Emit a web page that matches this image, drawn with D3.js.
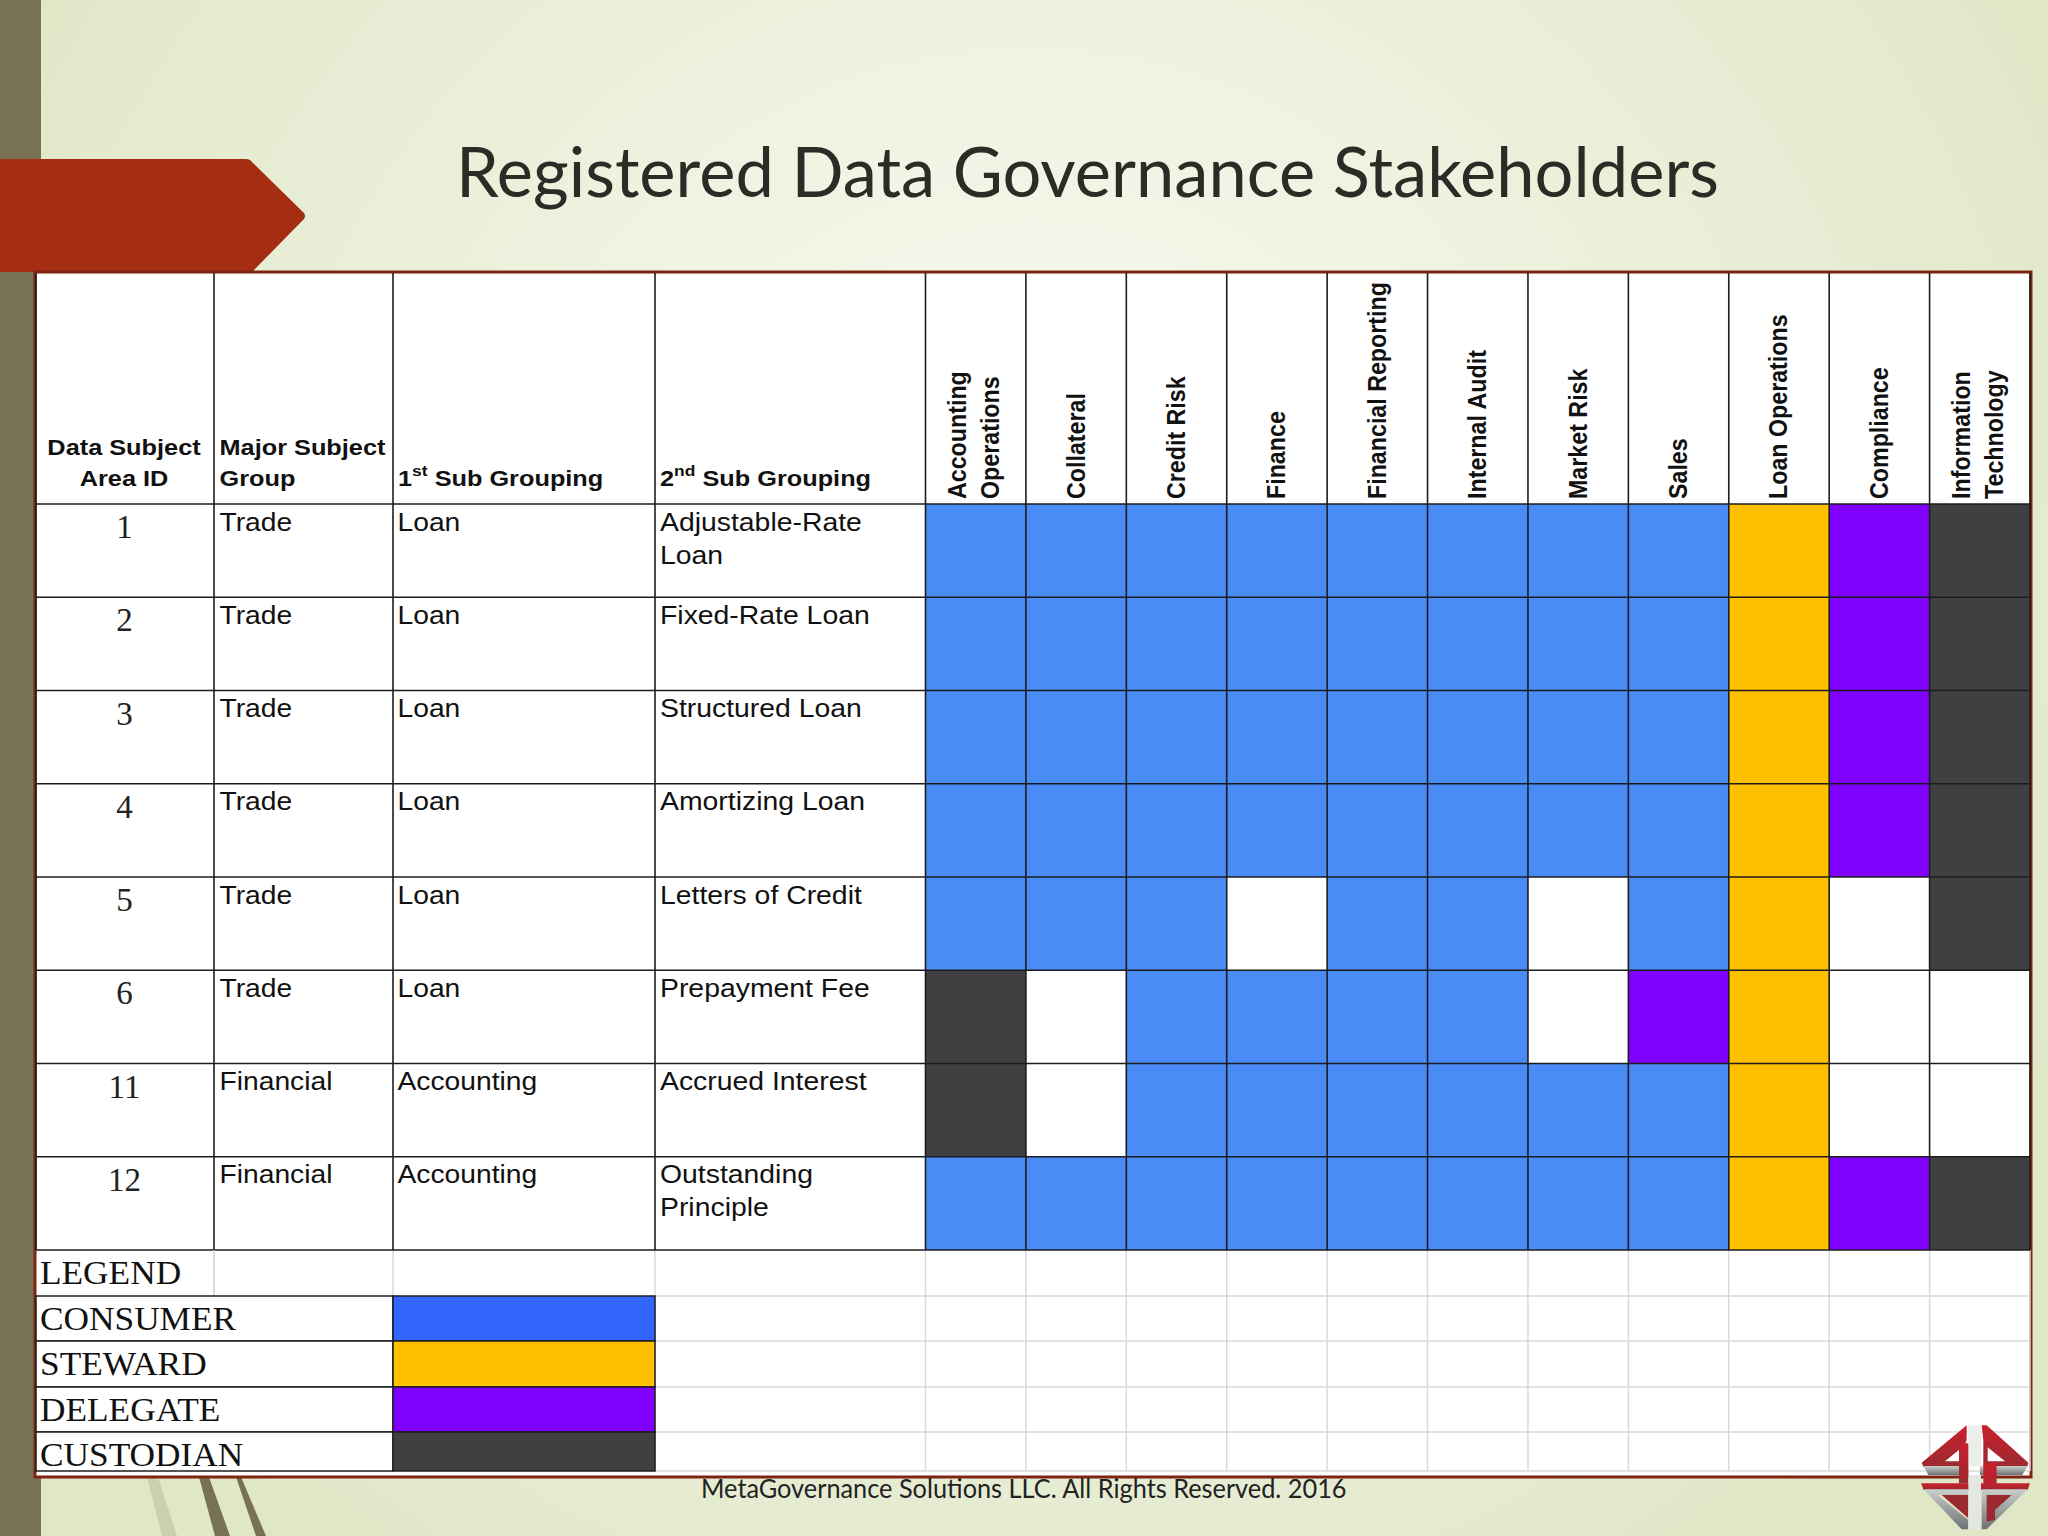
<!DOCTYPE html>
<html>
<head>
<meta charset="utf-8">
<title>Registered Data Governance Stakeholders</title>
<script src="https://cdn.jsdelivr.net/npm/d3@7"></script>
<style>
  html, body { margin: 0; padding: 0; background: #e6ecd4; }
  svg { display: block; }
</style>
</head>
<body>
<script>
const titleText = 'Registered Data Governance Stakeholders'
const footerText = 'MetaGovernance Solutions LLC. All Rights Reserved. 2016'

// one entry per stakeholder column, a second item means a second line
const stakeholders = [
  ['Accounting', 'Operations'], ['Collateral'], ['Credit Risk'], ['Finance'],
  ['Financial Reporting'], ['Internal Audit'], ['Market Risk'], ['Sales'],
  ['Loan Operations'], ['Compliance'], ['Information', 'Technology']
]

const areaIds = ['1', '2', '3', '4', '5', '6', '11', '12']
const majorGroups = ['Trade', 'Trade', 'Trade', 'Trade', 'Trade', 'Trade', 'Financial', 'Financial']
const firstGroups = ['Loan', 'Loan', 'Loan', 'Loan', 'Loan', 'Loan', 'Accounting', 'Accounting']
const secondGroups = [
  ['Adjustable-Rate', 'Loan'], ['Fixed-Rate Loan'], ['Structured Loan'], ['Amortizing Loan'],
  ['Letters of Credit'], ['Prepayment Fee'], ['Accrued Interest'], ['Outstanding', 'Principle']
]

// C consumer, S steward, D delegate, K custodian, - nothing
const roleRows = [
  'CCCCCCCCSDK',
  'CCCCCCCCSDK',
  'CCCCCCCCSDK',
  'CCCCCCCCSDK',
  'CCC-CC-CS-K',
  'K-CCCC-DS--',
  'K-CCCCCCS--',
  'CCCCCCCCSDK'
]

const legendNames = ['CONSUMER', 'STEWARD', 'DELEGATE', 'CUSTODIAN']
const legendCodes = ['C', 'S', 'D', 'K']

const width = 2048
const height = 1536
const sansFont = '"Liberation Sans", Arial, sans-serif'
const serifFont = '"Liberation Serif", serif'
const titleFont = 'Lato, "Open Sans", sans-serif'

// table layout
const tableLeft = 36
const tableRight = 2030
const tableTop = 273
const headerBottom = 504
const rowsBottom = 1250
const leftEdges = [36, 214, 393, 655, 925.5]
const legendEdges = [1250, 1296, 1341, 1387, 1432, 1471]

const svg = d3.select('body').append('svg')
  .attr('width', width)
  .attr('height', height)
  .attr('viewBox', `0 0 ${width} ${height}`)

const defs = svg.append('defs')
const bgGradient = defs.append('radialGradient')
  .attr('id', 'bg')
  .attr('gradientUnits', 'userSpaceOnUse')
  .attr('cx', 1030).attr('cy', 600).attr('r', 1200)
bgGradient.append('stop').attr('offset', 0).attr('stop-color', '#fbfcf6')
bgGradient.append('stop').attr('offset', 1).attr('stop-color', '#dfe7c6')

const logoRed = defs.append('linearGradient')
  .attr('id', 'logoRed').attr('x1', 0).attr('y1', 0).attr('x2', 0).attr('y2', 1)
logoRed.append('stop').attr('offset', 0).attr('stop-color', '#c9202c')
logoRed.append('stop').attr('offset', 1).attr('stop-color', '#9b2a30')

const logoGrey = defs.append('linearGradient')
  .attr('id', 'logoGrey').attr('x1', 0).attr('y1', 0).attr('x2', 0).attr('y2', 1)
logoGrey.append('stop').attr('offset', 0).attr('stop-color', '#c9cfcc')
logoGrey.append('stop').attr('offset', 1).attr('stop-color', '#6d7272')

// slide background
svg.append('rect').attr('width', width).attr('height', height).attr('fill', 'url(#bg)')
svg.append('rect').attr('width', 41).attr('height', height).attr('fill', '#777254')

const wedges = [
  ['#c9d0ae', [[147, 1477], [158, 1477], [177, 1536], [162, 1536]]],
  ['#777254', [[199, 1477], [209, 1477], [230, 1536], [215, 1536]]],
  ['#777254', [[236, 1477], [241, 1477], [266, 1536], [256, 1536]]]
]
svg.selectAll('polygon.wedge')
  .data(wedges)
  .enter()
  .append('polygon')
    .attr('class', 'wedge')
    .attr('fill', d => d[0])
    .attr('points', d => d[1].join(' '))

svg.append('path')
  .attr('d', 'M0 159 L246 159 Q250 159 252 162 L304 213 Q306 216 304 219 L252 272 L0 272 Z')
  .attr('fill', '#a52e12')

// helper: text stretched along its reading direction, as in the pasted slide image
const stretched = (parent, str, x, y, opts) => {
  const { size, font = sansFont, weight = 'normal', sx = 1, rotate = 0, anchor = 'start', fill = '#111' } = opts
  return parent.append('text')
    .attr('transform', `translate(${x},${y}) rotate(${rotate}) scale(${sx},1)`)
    .attr('font-family', font)
    .attr('font-size', size)
    .attr('font-weight', weight)
    .attr('text-anchor', anchor)
    .attr('fill', fill)
    .text(str)
}

// title
stretched(svg, titleText, 456, 197, { size: 69, font: titleFont, fill: '#2a2c25', sx: 0.995 })
  .attr('id', 'title')

// table panel and frame
svg.append('rect')
  .attr('x', tableLeft - 1).attr('y', tableTop - 1)
  .attr('width', tableRight - tableLeft + 2).attr('height', 1477 - tableTop + 1)
  .attr('fill', '#fff')
  .attr('stroke', '#7e2412')
  .attr('stroke-width', 3)

const columnScale = d3.scaleBand()
  .domain(d3.range(stakeholders.length))
  .range([leftEdges[4], tableRight])

const rowScale = d3.scaleBand()
  .domain(d3.range(areaIds.length))
  .range([headerBottom, rowsBottom])

const roleColor = d3.scaleOrdinal()
  .domain(['C', 'S', 'D', 'K'])
  .range(['#4a8cf5', '#ffc000', '#8000ff', '#404042'])

const legendColor = d3.scaleOrdinal()
  .domain(legendCodes)
  .range(['#3366ff', '#ffc000', '#8000ff', '#404042'])

// light sheet grid under the legend
const gridColor = '#d9d9dc'
const allVerticals = leftEdges.slice(0, 4).concat(d3.range(stakeholders.length + 1).map(i => leftEdges[4] + i * columnScale.step()))
const gridLayer = svg.append('g').attr('stroke', gridColor).attr('stroke-width', 1.5)
gridLayer.selectAll('line.v')
  .data(allVerticals.slice(1))
  .enter()
  .append('line')
    .attr('x1', d => d).attr('x2', d => d)
    .attr('y1', rowsBottom).attr('y2', legendEdges[5])
gridLayer.selectAll('line.h')
  .data(legendEdges.slice(1))
  .enter()
  .append('line')
    .attr('x1', leftEdges[3]).attr('x2', tableRight)
    .attr('y1', d => d).attr('y2', d => d)

// stakeholder cells
const cells = []
roleRows.forEach((row, r) => {
  row.split('').forEach((code, c) => {
    if (code != '-') cells.push({ r, c, code })
  })
})

svg.selectAll('rect.cell')
  .data(cells)
  .enter()
  .append('rect')
    .attr('class', 'cell')
    .attr('x', d => columnScale(d.c))
    .attr('y', d => rowScale(d.r))
    .attr('width', columnScale.bandwidth())
    .attr('height', rowScale.bandwidth())
    .attr('fill', d => roleColor(d.code))

// black table rules
const ruleColor = '#1c1c1e'
const rules = svg.append('g').attr('stroke', ruleColor).attr('stroke-width', 1.6)
rules.selectAll('line.v')
  .data(allVerticals)
  .enter()
  .append('line')
    .attr('x1', d => d).attr('x2', d => d)
    .attr('y1', tableTop).attr('y2', rowsBottom)
rules.selectAll('line.h')
  .data(d3.range(areaIds.length + 1))
  .enter()
  .append('line')
    .attr('x1', tableLeft).attr('x2', tableRight)
    .attr('y1', d => headerBottom + d * rowScale.step())
    .attr('y2', d => headerBottom + d * rowScale.step())

// column headers
const headerLabels = [
  [['Data Subject', 124, 455, 'middle'], ['Area ID', 124, 486, 'middle']],
  [['Major Subject', 219.5, 455, 'start'], ['Group', 219.5, 486, 'start']]
]
headerLabels.flat().forEach(d => {
  stretched(svg, d[0], d[1], d[2], { size: 22.5, weight: 'bold', sx: 1.125, anchor: d[3] })
})

const ordinalHeader = (x, num, sup, rest) => {
  const t = svg.append('text')
    .attr('transform', `translate(${x},486) scale(1.125,1)`)
    .attr('font-family', sansFont)
    .attr('font-size', 22.5)
    .attr('font-weight', 'bold')
    .attr('fill', '#111')
  t.append('tspan').text(num)
  t.append('tspan').attr('dy', -10).attr('font-size', 15.5).text(sup)
  t.append('tspan').attr('dy', 10).text(' ' + rest)
}
ordinalHeader(398, '1', 'st', 'Sub Grouping')
ordinalHeader(660, '2', 'nd', 'Sub Grouping')

// rotated stakeholder headers
stakeholders.forEach((lines, c) => {
  const center = columnScale(c) + columnScale.bandwidth() / 2
  lines.forEach((line, l) => {
    const base = lines.length == 1 ? center + 8.5 : center - 9.5 + l * 33
    stretched(svg, line, base, 499, { size: 25, weight: 'bold', sx: 0.93, rotate: -90 })
  })
})

// row labels
areaIds.forEach((id, r) => {
  const top = rowScale(r)
  stretched(svg, id, 124.5, top + 34, { size: 33, font: serifFont, anchor: 'middle', fill: '#222' })
  stretched(svg, majorGroups[r], 219.5, top + 26.5, { size: 25, sx: 1.13 })
  stretched(svg, firstGroups[r], 397.5, top + 26.5, { size: 25, sx: 1.13 })
  secondGroups[r].forEach((line, l) => {
    stretched(svg, line, 660, top + 26.5 + l * 33, { size: 25, sx: 1.135 })
  })
})

// legend
stretched(svg, 'LEGEND', 40, 1284, { size: 33, font: serifFont, sx: 1.07 })
svg.append('line')
  .attr('x1', leftEdges[1]).attr('x2', leftEdges[1])
  .attr('y1', rowsBottom).attr('y2', legendEdges[1])
  .attr('stroke', gridColor).attr('stroke-width', 1.5)

legendNames.forEach((name, i) => {
  const y0 = legendEdges[i + 1]
  const y1 = legendEdges[i + 2]
  svg.append('rect')
    .attr('x', tableLeft).attr('y', y0)
    .attr('width', leftEdges[2] - tableLeft).attr('height', y1 - y0)
    .attr('fill', '#fff')
    .attr('stroke', ruleColor).attr('stroke-width', 1.5)
  svg.append('rect')
    .attr('x', leftEdges[2]).attr('y', y0)
    .attr('width', leftEdges[3] - leftEdges[2]).attr('height', y1 - y0)
    .attr('fill', legendColor(legendCodes[i]))
    .attr('stroke', ruleColor).attr('stroke-width', 1.5)
  stretched(svg, name, 40, y0 + 34, { size: 33, font: serifFont, sx: 1.07 })
})

// footer
stretched(svg, footerText, 701, 1498, { size: 26, font: titleFont, fill: '#222', sx: 0.974 })
  .attr('id', 'footer')

// logo, drawn in the coordinates of a 120 wide box
const logo = svg.append('g').attr('transform', 'translate(1915,1420) scale(0.3333)')
const logoParts = [
  ['url(#logoRed)', 'M155 16 L20 128 L26 142 L150 142 L150 124 L90 124 L150 75 L155 60 Z'],
  ['url(#logoGrey)', 'M26 138 L160 138 L160 165 L40 165 Z'],
  ['url(#logoRed)', 'M200 16 L215 16 L340 128 L336 142 L205 142 L205 60 Z'],
  ['#ffffff', 'M218 82 L270 124 L218 124 Z'],
  ['url(#logoGrey)', 'M195 138 L338 138 L322 165 L195 165 Z'],
  ['#eceeec', 'M160 16 L198 16 L198 140 L160 140 Z'],
  ['url(#logoRed)', 'M132 70 L160 70 L160 190 L132 190 Z'],
  ['url(#logoRed)', 'M205 130 L245 130 L245 250 L205 250 Z'],
  ['url(#logoRed)', 'M18 190 L345 190 L338 210 L26 210 Z'],
  ['url(#logoGrey)', 'M26 208 L160 208 L160 225 L68 225 L160 300 L160 328 L140 328 Z'],
  ['#9b2a30', 'M80 225 L160 225 L160 295 Z'],
  ['url(#logoGrey)', 'M200 208 L338 208 L215 328 L200 328 Z'],
  ['#9b2a30', 'M215 225 L290 225 L240 270 L240 300 L215 305 Z'],
  ['#e3e6e3', 'M160 165 L198 165 L198 328 L160 328 Z']
]
logo.selectAll('path')
  .data(logoParts)
  .enter()
  .append('path')
    .attr('fill', d => d[0])
    .attr('d', d => d[1])
</script>
</body>
</html>
